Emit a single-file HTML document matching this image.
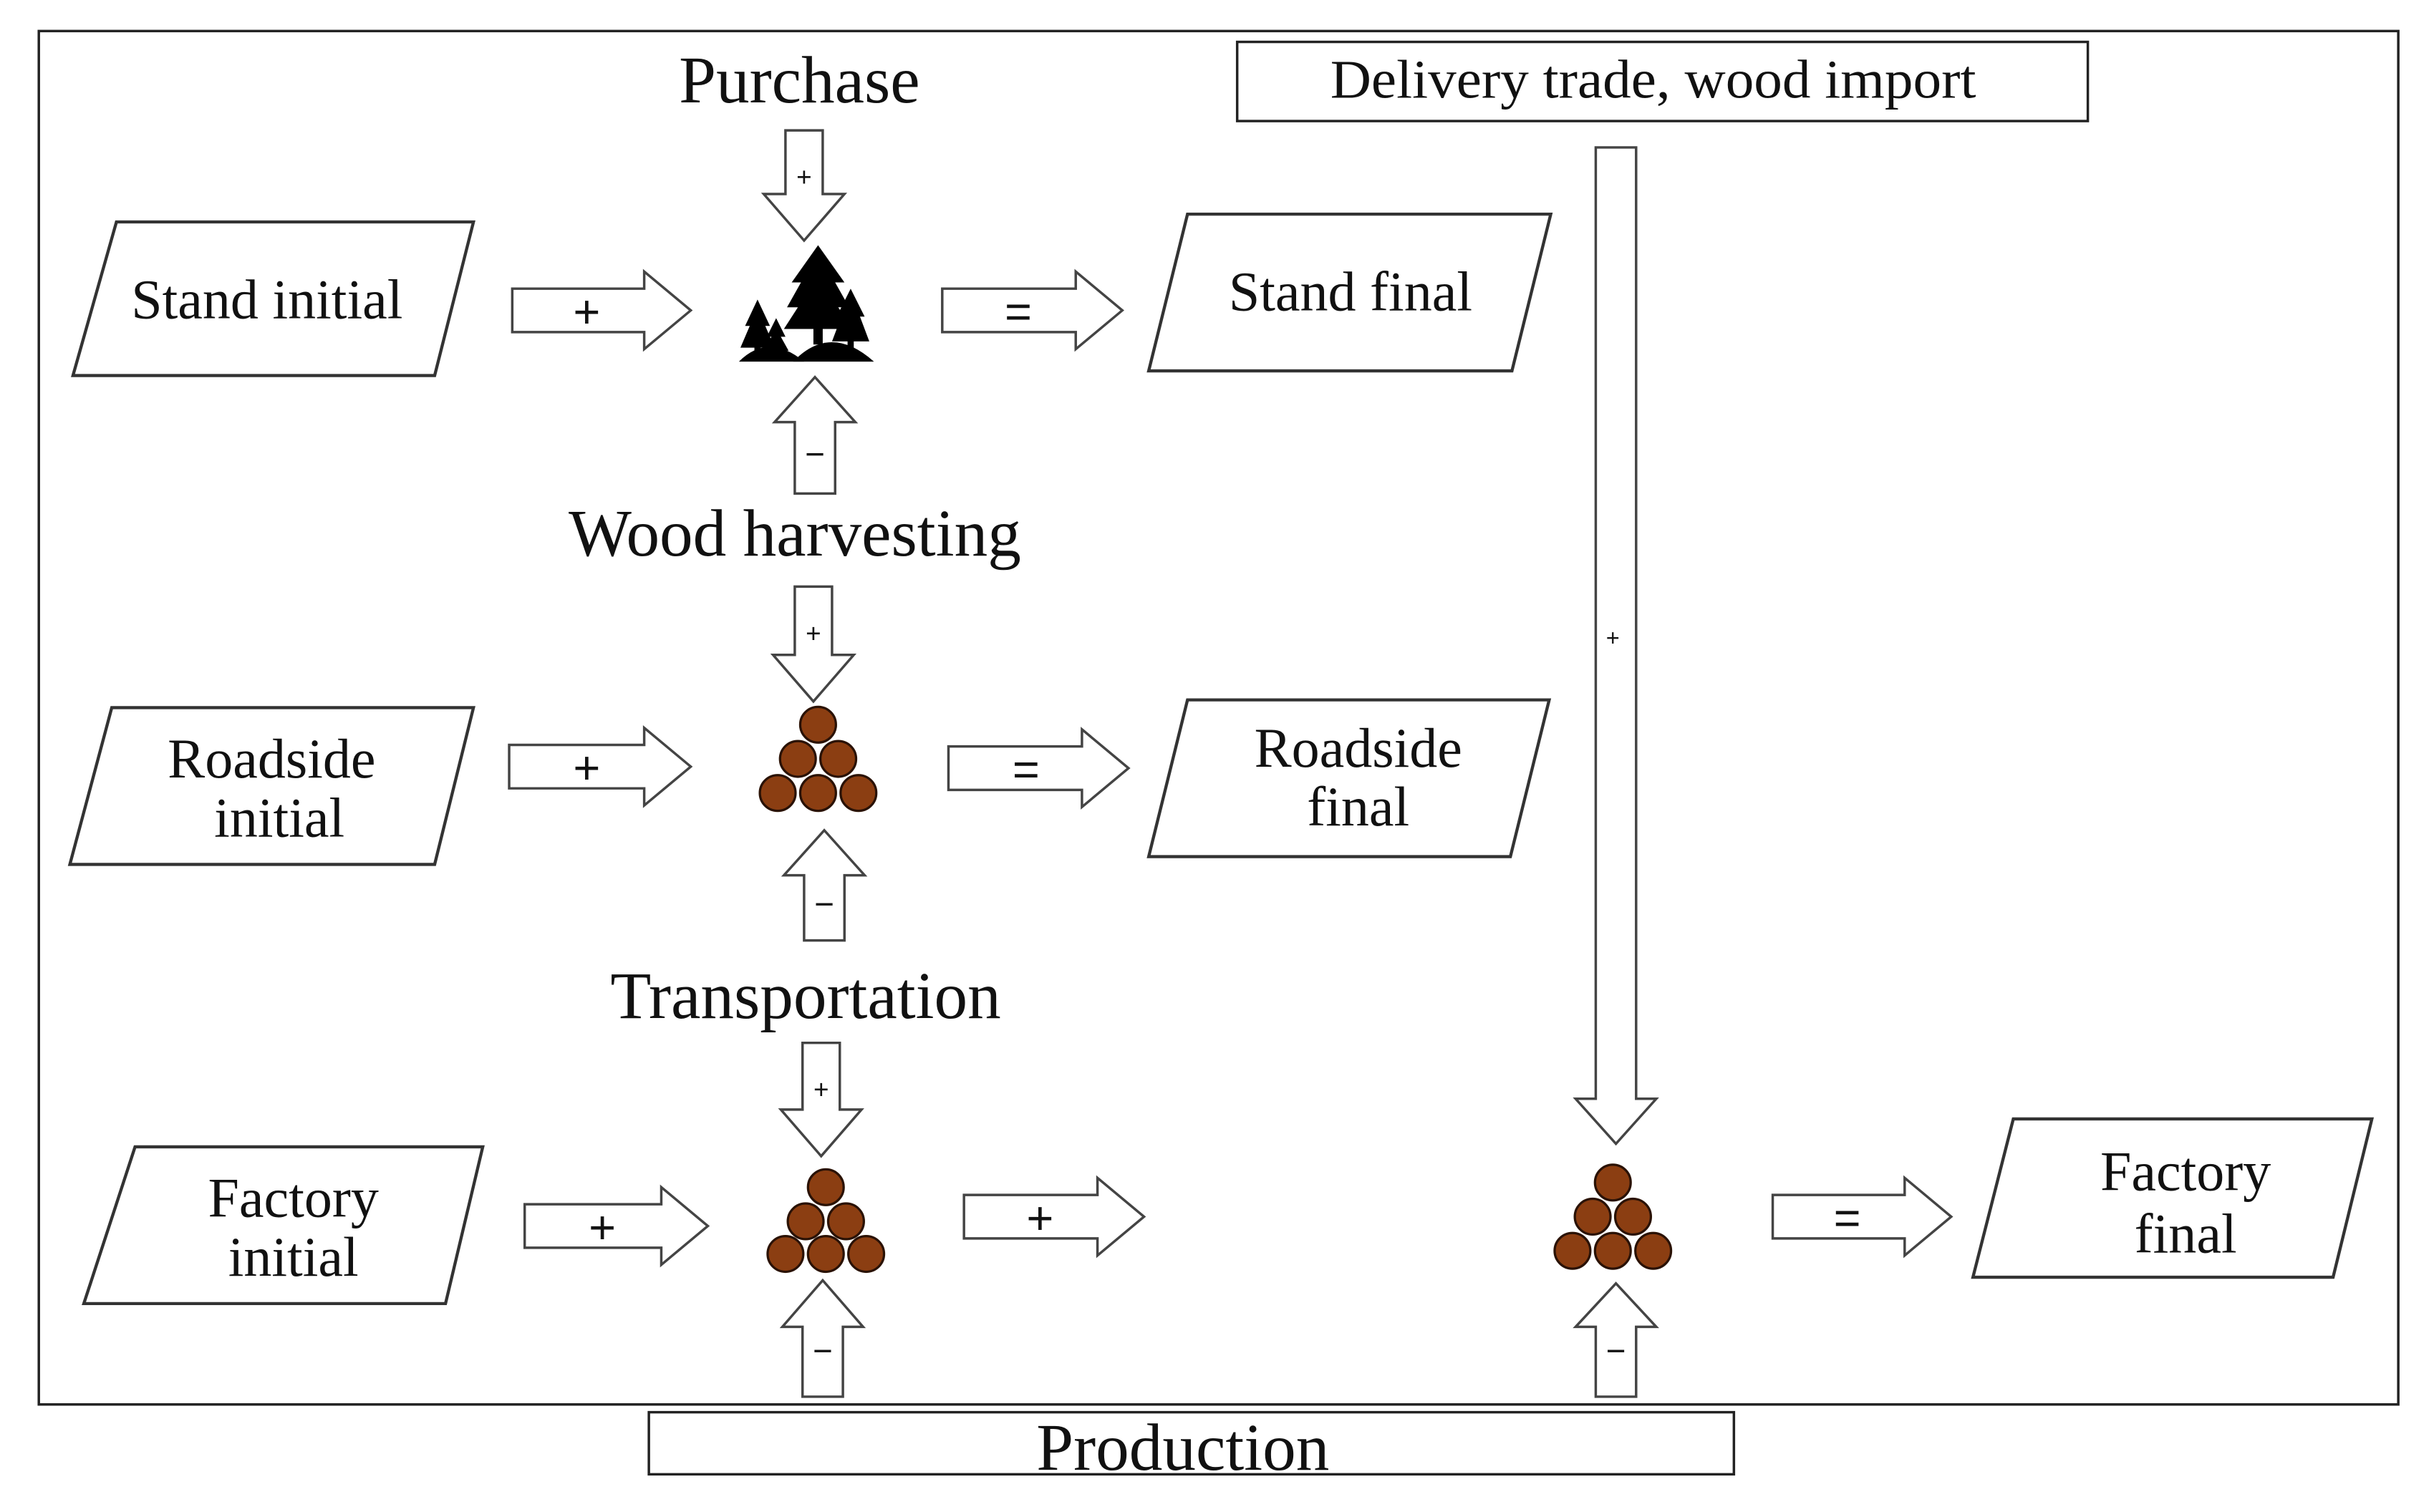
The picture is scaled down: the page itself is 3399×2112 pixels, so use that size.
<!DOCTYPE html>
<html><head><meta charset="utf-8"><style>
html,body{margin:0;padding:0;background:#fff}
svg{display:block}
text{font-family:"Liberation Serif",serif;fill:#111}
</style></head><body>
<svg width="3399" height="2112" viewBox="0 0 1568 974.3" xmlns="http://www.w3.org/2000/svg">
<rect x="0" y="0" width="1568" height="975" fill="#fff"/>
<rect x="25" y="20" width="1520" height="885" fill="none" stroke="#222" stroke-width="1.6"/>
<rect x="797" y="27" width="548" height="51" fill="#fff" stroke="#222" stroke-width="1.6"/>
<text x="1065" y="63" font-size="35" text-anchor="middle" textLength="416" lengthAdjust="spacingAndGlyphs">Delivery trade, wood import</text>
<rect x="418" y="910" width="699" height="40" fill="#fff" stroke="#222" stroke-width="1.6"/>
<text x="762" y="947" font-size="43" text-anchor="middle">Production</text>

<text x="515" y="66" font-size="43" text-anchor="middle">Purchase</text>
<text x="512" y="358" font-size="43" text-anchor="middle">Wood harvesting</text>
<text x="519" y="656" font-size="43" text-anchor="middle">Transportation</text>

<g fill="#fff" stroke="#333" stroke-width="2">
<polygon points="75,143 305,143 280,242 47,242"/>
<polygon points="765,138 999,138 974,239 740,239"/>
<polygon points="72,456 305,456 280,557 45,557"/>
<polygon points="765,451 998,451 973,552 740,552"/>
<polygon points="87,739 311,739 287,840 54,840"/>
<polygon points="1297,721 1528,721 1503,823 1271,823"/>
</g>
<g font-size="36" text-anchor="middle">
<text x="172" y="205">Stand initial</text>
<text x="870" y="200">Stand final</text>
<text x="175" y="501">Roadside</text>
<text x="180" y="539">initial</text>
<text x="875" y="494">Roadside</text>
<text x="875" y="532">final</text>
<text x="189" y="784">Factory</text>
<text x="189" y="822">initial</text>
<text x="1408" y="767">Factory</text>
<text x="1408" y="807">final</text>
</g>

<g fill="#fff" stroke="#444" stroke-width="1.6">
<path d="M330,186 H415 V175 L445,200 L415,225 V214 H330 Z"/>
<path d="M607,186 H693 V175 L723,200 L693,225 V214 H607 Z"/>
<path d="M328,480 H415 V469 L445,494 L415,519 V508 H328 Z"/>
<path d="M611,481 H697 V470 L727,495 L697,520 V509 H611 Z"/>
<path d="M338,776 H426 V765 L456,790 L426,815 V804 H338 Z"/>
<path d="M621,770 H707 V759 L737,784 L707,809 V798 H621 Z"/>
<path d="M1142,770 H1227 V759 L1257,784 L1227,809 V798 H1142 Z"/>
<path d="M506,84 H530 V125 H544 L518,155 L492,125 H506 Z"/>
<path d="M512,378 H536 V422 H550 L524,452 L498,422 H512 Z"/>
<path d="M517,672 H541 V715 H555 L529,745 L503,715 H517 Z"/>
<path d="M1028,95 H1054 V708 H1067 L1041,737 L1015,708 H1028 Z"/>
<path d="M525,243 L551,272 H538 V318 H512 V272 H499 Z"/>
<path d="M531,535 L557,564 H544 V606 H518 V564 H505 Z"/>
<path d="M530,825 L556,855 H543 V900 H517 V855 H504 Z"/>
<path d="M1041,827 L1067,855 H1054 V900 H1028 V855 H1015 Z"/>
</g>
<g text-anchor="middle" style="font-family:'Liberation Sans',sans-serif">
<text x="378" y="211" font-size="30" style="font-family:'Liberation Sans',sans-serif">+</text>
<text x="656" y="211" font-size="30" style="font-family:'Liberation Sans',sans-serif">=</text>
<text x="378" y="505" font-size="30" style="font-family:'Liberation Sans',sans-serif">+</text>
<text x="661" y="506" font-size="30" style="font-family:'Liberation Sans',sans-serif">=</text>
<text x="388" y="801" font-size="30" style="font-family:'Liberation Sans',sans-serif">+</text>
<text x="670" y="795" font-size="30" style="font-family:'Liberation Sans',sans-serif">+</text>
<text x="1190" y="795" font-size="30" style="font-family:'Liberation Sans',sans-serif">=</text>
<text x="518" y="120" font-size="17" style="font-family:'Liberation Sans',sans-serif">+</text>
<text x="524" y="414" font-size="17" style="font-family:'Liberation Sans',sans-serif">+</text>
<text x="529" y="708" font-size="17" style="font-family:'Liberation Sans',sans-serif">+</text>
<text x="1039" y="416" font-size="15" style="font-family:'Liberation Sans',sans-serif">+</text>
<text x="525" y="300" font-size="22" style="font-family:'Liberation Sans',sans-serif">−</text>
<text x="531" y="590" font-size="22" style="font-family:'Liberation Sans',sans-serif">−</text>
<text x="530" y="878" font-size="22" style="font-family:'Liberation Sans',sans-serif">−</text>
<text x="1041" y="878" font-size="22" style="font-family:'Liberation Sans',sans-serif">−</text>
</g>

<!-- trees -->
<g fill="#000">
<polygon points="527,158 510,182 516,182 507,198 514,198 505,212 549,212 540,198 547,198 538,182 544,182"/>
<rect x="524" y="210" width="6" height="12"/>
<polygon points="548,186 539,204 542,204 536,220 560,220 554,204 557,204"/>
<rect x="546" y="218" width="4" height="8"/>
<polygon points="488,193 480,210 483,210 477,224 499,224 493,210 496,210"/>
<rect x="486" y="222" width="4" height="8"/>
<polygon points="500,205 494,217 497,217 492,226 508,226 503,217 506,217"/>
<path d="M476,233 Q495,214 518,233 Z"/>
<path d="M511,233 Q535,208 563,233 Z"/>
</g>

<!-- logs -->
<g fill="#8b3e12" stroke="#2a1205" stroke-width="1.5">
<circle cx="527" cy="467" r="11.5"/><circle cx="514" cy="489" r="11.5"/><circle cx="540" cy="489" r="11.5"/>
<circle cx="501" cy="511" r="11.5"/><circle cx="527" cy="511" r="11.5"/><circle cx="553" cy="511" r="11.5"/>
<circle cx="532" cy="765" r="11.5"/><circle cx="519" cy="787" r="11.5"/><circle cx="545" cy="787" r="11.5"/>
<circle cx="506" cy="808" r="11.5"/><circle cx="532" cy="808" r="11.5"/><circle cx="558" cy="808" r="11.5"/>
<circle cx="1039" cy="762" r="11.5"/><circle cx="1026" cy="784" r="11.5"/><circle cx="1052" cy="784" r="11.5"/>
<circle cx="1013" cy="806" r="11.5"/><circle cx="1039" cy="806" r="11.5"/><circle cx="1065" cy="806" r="11.5"/>
</g>
</svg>
</body></html>
